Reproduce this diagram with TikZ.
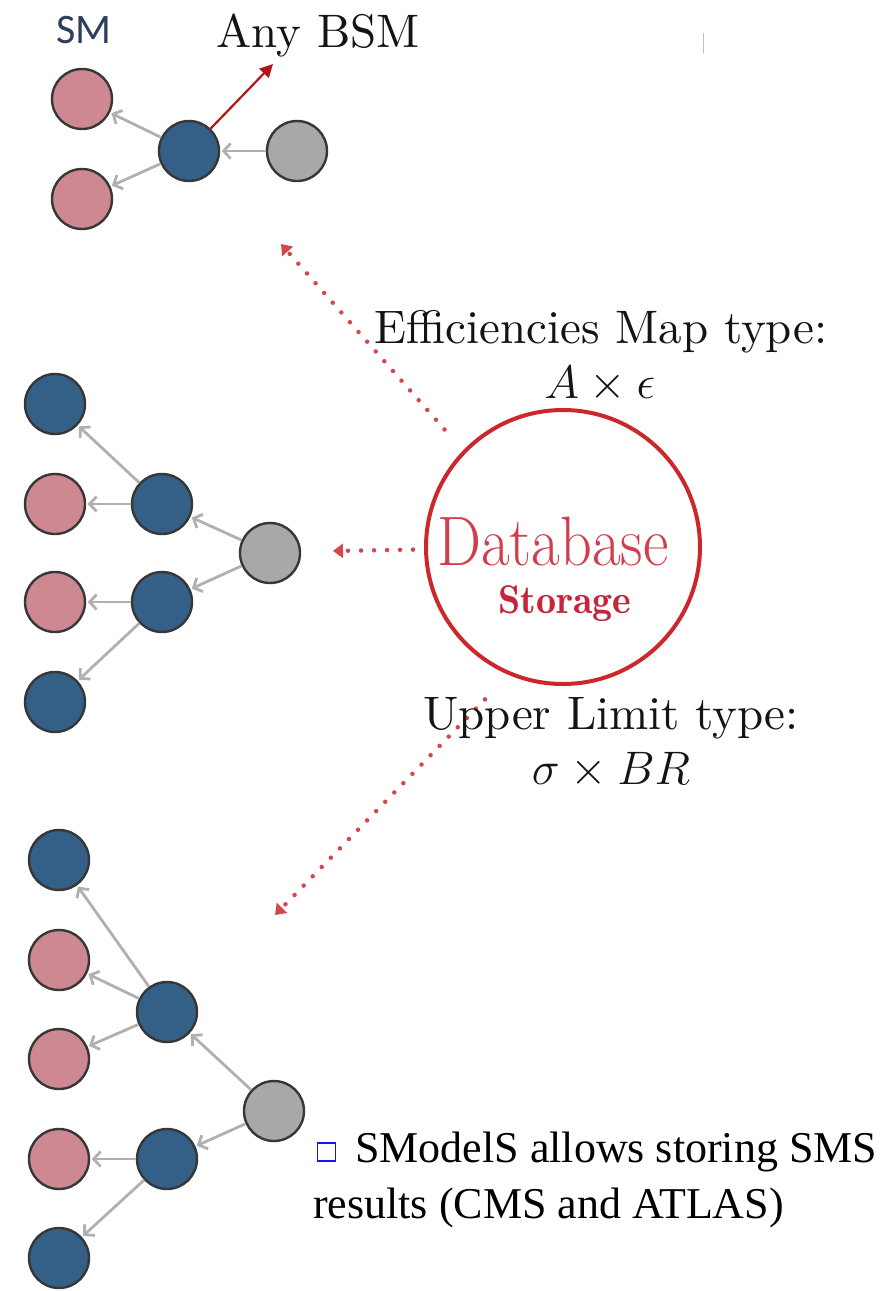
\RequirePackage{fix-cm}
\documentclass[tikz,border=0pt]{standalone}
\usepackage{fontspec}
\usetikzlibrary{arrows.meta}
\newfontfamily\smfont{Carlito}
\newfontfamily\timesfont{Liberation Serif}
\newfontfamily\lmten{lmroman10-regular.otf}
\newfontfamily\lmdemi{lmromandemi10-regular.otf}

\definecolor{smpink}{RGB}{205,136,146}
\definecolor{smblue}{RGB}{52,96,136}
\definecolor{smgray}{RGB}{168,168,168}
\definecolor{ringline}{RGB}{55,55,55}
\definecolor{edgegray}{RGB}{176,176,176}
\definecolor{dbred}{RGB}{204,40,44}
\definecolor{dbtext}{RGB}{210,62,78}
\definecolor{storred}{RGB}{196,38,60}
\definecolor{bsmred}{RGB}{178,22,26}
\definecolor{smlabel}{RGB}{45,62,92}
\definecolor{boxblue}{RGB}{20,20,250}

\tikzset{
  particle/.style={circle, draw=ringline, line width=2.4pt, minimum size=60pt, inner sep=0pt},
  pinkp/.style={particle, fill=smpink},
  bluep/.style={particle, fill=smblue},
  grayp/.style={particle, fill=smgray},
  decay/.style={draw=edgegray, line width=2.8pt, shorten >=1.5pt,
    -{Straight Barb[length=7pt,width=15pt]}},
  dotarrow/.style={draw=dbred!85, line width=4.5pt, line cap=round,
    dash pattern=on 0pt off 13pt, -{Triangle[length=10pt,width=14pt]}},
  bsmarrow/.style={draw=bsmred, line width=2.2pt, -{Triangle[length=13pt,width=13pt]}},
  label/.style={inner sep=0pt, text=black!92, font=\lmten\fontsize{47}{56}\selectfont},
}

\begin{document}
\begin{tikzpicture}[x=1pt,y=-1pt]
\useasboundingbox (0,0) rectangle (884,1291);

% ---- top decay chain ----
\node[anchor=base, inner sep=0pt, text=smlabel, font=\smfont\fontsize{42}{48}\selectfont] (smlab) at (84,43) {SM};
\node[label, anchor=base] (anybsm) at (318,47) {Any BSM};
\node[pinkp] (tp1) at (82,99) {};
\node[pinkp] (tp2) at (82,199) {};
\node[bluep] (tb) at (189,151) {};
\node[grayp] (tg) at (297,151) {};
\coordinate (bsmtip) at (273,64);
\draw[decay] (tb) -- (tp1);
\draw[decay] (tb) -- (tp2);
\draw[decay] (tg) -- (tb);
\draw[bsmarrow] (tb) -- (bsmtip);
\draw[black!25, line width=1pt] (703,33) -- (703,53);

% ---- middle decay chain ----
\node[bluep] (mb1) at (55,404) {};
\node[pinkp] (mp1) at (55,504) {};
\node[pinkp] (mp2) at (55,602) {};
\node[bluep] (mb2) at (55,702) {};
\node[bluep] (mu) at (162,504) {};
\node[bluep] (ml) at (162,602) {};
\node[grayp] (mg) at (270,553) {};
\draw[decay] (mu) -- (mb1);
\draw[decay] (mu) -- (mp1);
\draw[decay] (mg) -- (mu);
\draw[decay] (mg) -- (ml);
\draw[decay] (ml) -- (mp2);
\draw[decay] (ml) -- (mb2);

% ---- bottom decay chain ----
\node[bluep] (bb1) at (59,860) {};
\node[pinkp] (bp1) at (59,960) {};
\node[pinkp] (bp2) at (59,1059) {};
\node[pinkp] (bp3) at (59,1159) {};
\node[bluep] (bb2) at (59,1258) {};
\node[bluep] (bu) at (167,1012) {};
\node[bluep] (bl) at (167,1159) {};
\node[grayp] (bg) at (274,1111) {};
\draw[decay] (bu) -- (bb1);
\draw[decay] (bu) -- (bp1);
\draw[decay] (bu) -- (bp2);
\draw[decay] (bg) -- (bu);
\draw[decay] (bg) -- (bl);
\draw[decay] (bl) -- (bp3);
\draw[decay] (bl) -- (bb2);

% ---- database ----
\node[circle, draw=dbred, line width=4pt, minimum size=274pt, inner sep=0pt] (db) at (563,547) {};
\node[anchor=base west, inner sep=0pt, text=dbtext, font=\fontsize{70}{80}\selectfont] (dbword) at (437,565) {\scalebox{0.89}[1]{Database}};
\node[anchor=base, inner sep=0pt, text=storred, font=\lmdemi\fontsize{40}{46}\selectfont] (stor) at (565,613) {Storage};

\coordinate (t1) at (281,244);
\coordinate (t2) at (333,551);
\coordinate (t3) at (275,915);
\draw[dotarrow, shorten <=28pt] (db.136) -- (t1);
\draw[dotarrow, shorten <=11pt] (db.181) -- (t2);
\draw[dotarrow, shorten <=34pt] (db.247) -- (t3);

% ---- result types ----
\node[label, anchor=base] (effmap) at (601,343) {Efficiencies Map type:};
\node[label, anchor=base] (effmath) at (600,398) {$A\times\epsilon$};
\node[label, anchor=base] (ulmap) at (611,729) {Upper Limit type:};
\node[label, anchor=base] (ulmath) at (611,784) {$\sigma\times BR$};

% ---- note ----
\node[draw=boxblue, line width=1.5pt, minimum size=18pt, inner sep=0pt] (bullet) at (326.5,1152) {};
\node[anchor=base west, inner sep=0pt, text=black, font=\timesfont\fontsize{44}{53}\selectfont] (note1) at (355,1162) {SModelS allows storing SMS};
\node[anchor=base west, inner sep=0pt, text=black, font=\timesfont\fontsize{44}{53}\selectfont] (note2) at (313,1218) {results (CMS and ATLAS)};
\end{tikzpicture}
\end{document}
